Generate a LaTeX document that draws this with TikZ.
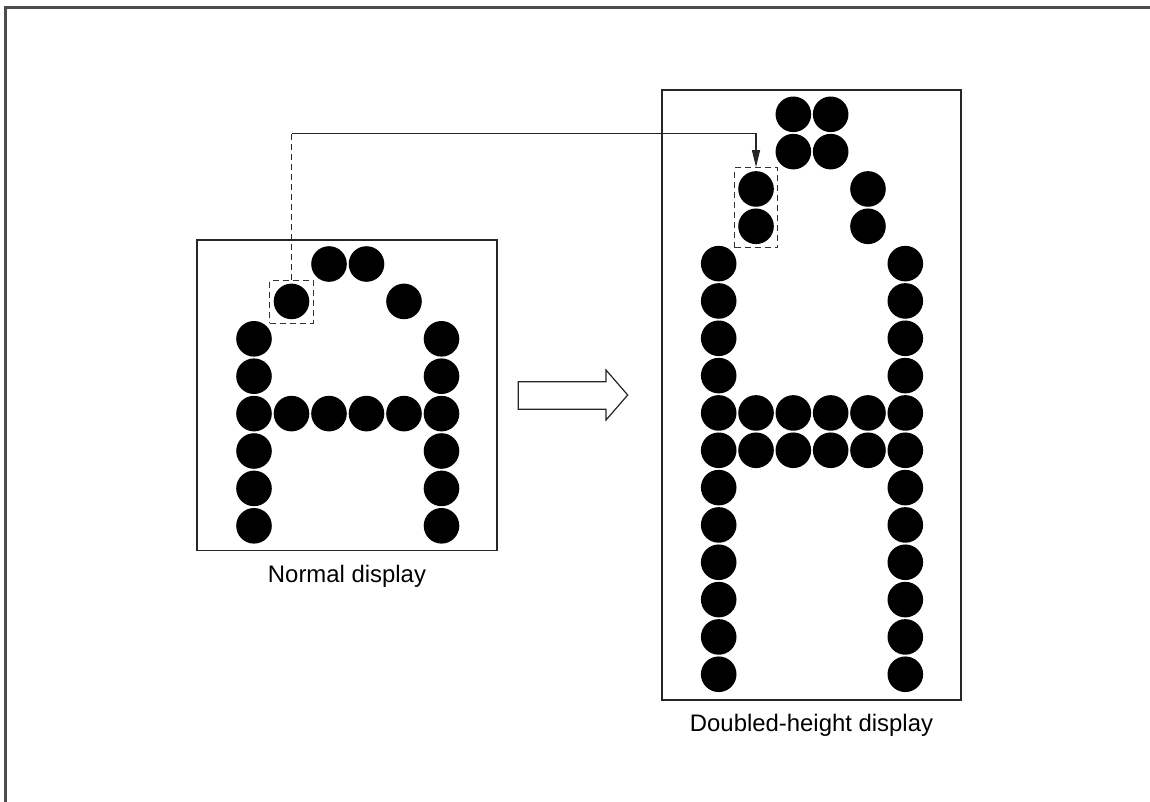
\documentclass[tikz,border=0pt]{standalone}
\usepackage{fontspec}
\setmainfont{Liberation Sans}
\usetikzlibrary{arrows.meta}
\begin{document}
\begin{tikzpicture}[x=1pt,y=-1pt,
  dot/.style={circle,fill=black,draw=none,minimum size=35.6pt,inner sep=0pt},
  panel/.style={draw=black!85,line width=1.4pt,inner sep=0pt},
  selbox/.style={draw=black!80,line width=1.1pt,dash pattern=on 6pt off 4pt,inner sep=0pt},
  lbl/.style={font=\fontsize{23.9}{28}\selectfont,anchor=base,inner sep=0pt},
  conn/.style={line width=1.1pt,draw=black!85}]
\useasboundingbox (0,0) rectangle (1150,801);
% outer frame (only top and left visible)
\draw[line width=2.6pt,draw=black!70] (5.7,810) -- (5.7,7.5) -- (1160,7.5);
% panels
\node[panel,minimum width=300pt,minimum height=310.7pt] (lpanel) at (347,395.4) {};
\node[panel,minimum width=299pt,minimum height=610pt] (rpanel) at (811.5,395) {};
% labels
\node[lbl] (llabel) at (347,582) {Normal display};
\node[lbl] (rlabel) at (811.5,731) {Doubled-height display};
% left character
\foreach \r/\cols in {1/{3,4},2/{2,5},3/{1,6},4/{1,6},5/{1,2,3,4,5,6},6/{1,6},7/{1,6},8/{1,6}}{
  \foreach \c in \cols {
    \node[dot] (L-\r-\c) at ({254+37.5*(\c-1)},{264+37.4*(\r-1)}) {};
  }
}
% right character
\foreach \r/\cols in {1/{3,4},2/{3,4},3/{2,5},4/{2,5},5/{1,6},6/{1,6},7/{1,6},8/{1,6},9/{1,2,3,4,5,6},10/{1,2,3,4,5,6},11/{1,6},12/{1,6},13/{1,6},14/{1,6},15/{1,6},16/{1,6}}{
  \foreach \c in \cols {
    \node[dot] (R-\r-\c) at ({718.7+37.32*(\c-1)},{114.3+37.33*(\r-1)}) {};
  }
}
% selection boxes
\node[selbox,minimum width=43.3pt,minimum height=42.3pt] (lsel) at (291.5,301.9) {};
\node[selbox,minimum width=43pt,minimum height=80pt] (rsel) at (756,207.7) {};
% connector
\coordinate (bend1) at (lsel.north |- 0,133.3);
\coordinate (bend2) at (rsel.north |- 0,133.3);
\draw[conn,dash pattern=on 6pt off 4pt] (lsel.north) -- (bend1);
\draw[conn,-{Triangle[length=17pt,width=8pt]}] (bend1) -- (bend2) -- (rsel.north);
% block arrow
\draw[line width=1.2pt,draw=black!85,fill=white] (518.3,381.7) -- (606,381.7) -- (606,370) -- (627.7,395) -- (606,420) -- (606,409.3) -- (518.3,409.3) -- cycle;
\end{tikzpicture}
\end{document}
